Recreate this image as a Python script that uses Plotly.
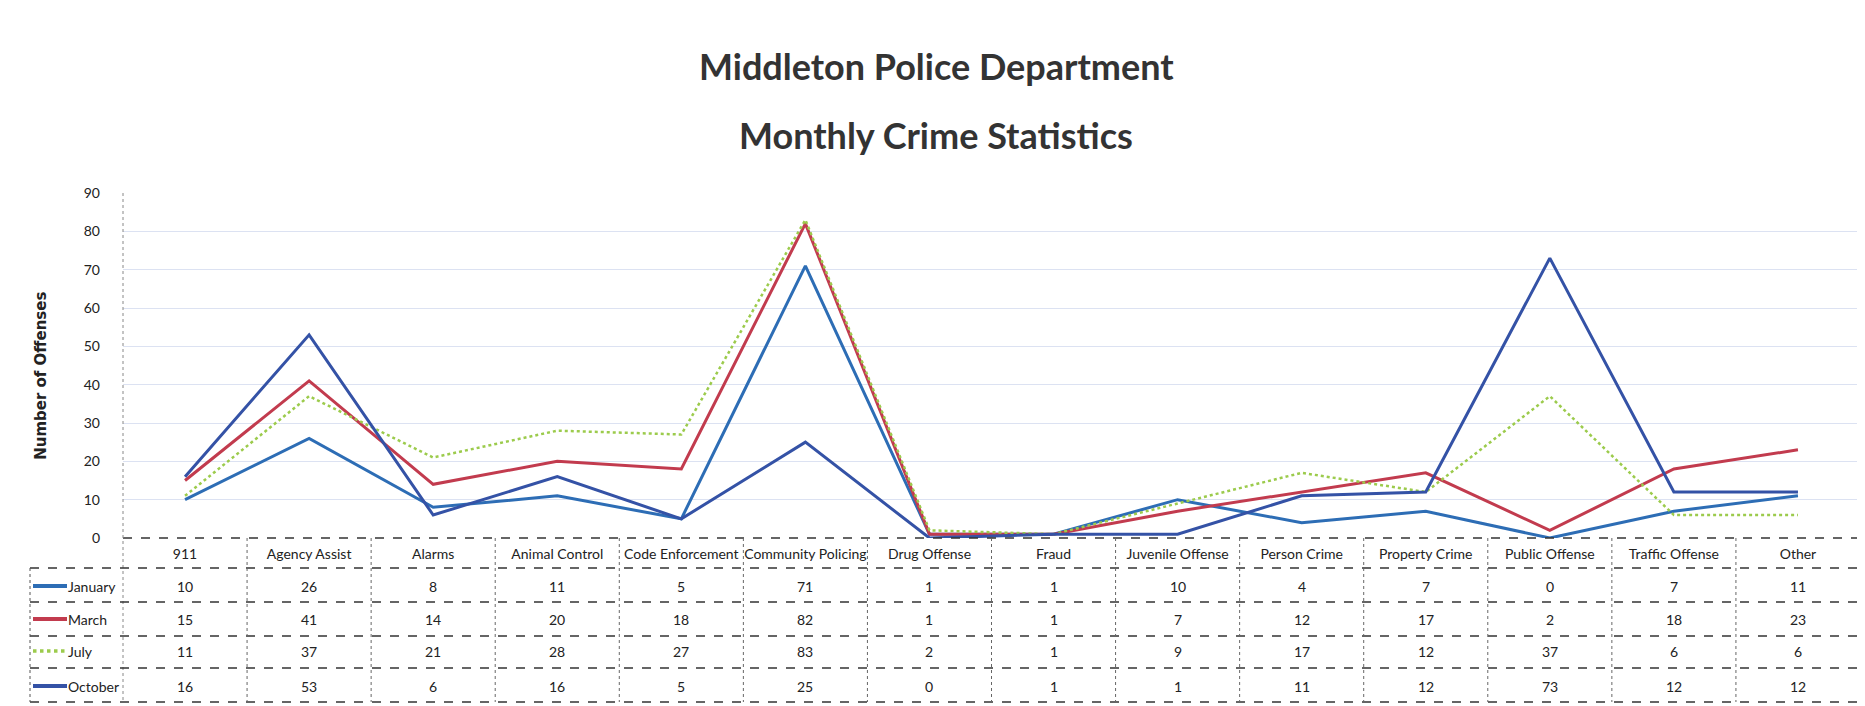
import plotly.graph_objects as go

categories = ["911", "Agency Assist", "Alarms", "Animal Control", "Code Enforcement",
              "Community Policing", "Drug Offense", "Fraud", "Juvenile Offense",
              "Person Crime", "Property Crime", "Public Offense", "Traffic Offense", "Other"]
months = ["January", "March", "July", "October"]
january = [10, 26, 8, 11, 5, 71, 1, 1, 10, 4, 7, 0, 7, 11]
march = [15, 41, 14, 20, 18, 82, 1, 1, 7, 12, 17, 2, 18, 23]
july = [11, 37, 21, 28, 27, 83, 2, 1, 9, 17, 12, 37, 6, 6]
october = [16, 53, 6, 16, 5, 25, 0, 1, 1, 11, 12, 73, 12, 12]
y_ticks = [0, 10, 20, 30, 40, 50, 60, 70, 80, 90]

series = [january, march, july, october]
colors = ["#2D6DB5", "#C23B4E", "#9CCB4C", "#3452A6"]
dashes = ["solid", "solid", "dot", "solid"]
widths = [3, 3, 2.5, 3]

FONT = "Lato, 'Open Sans', sans-serif"

W, H = 1865, 706
L, R, T, B = 115, 13, 185, 176
plot_h = H - T - B
plot_w = W - L - R


def py(pix):
    return (H - B - pix) / plot_h


def px(pix):
    return (pix - L) / plot_w


fig = go.Figure()
for name, vals, c, d, w in zip(months, series, colors, dashes, widths):
    fig.add_trace(go.Scatter(x=categories, y=vals, mode="lines", name=name,
                             line=dict(color=c, width=w, dash=d), showlegend=False))

# Title
for txt, yy in [("<b>Middleton Police Department</b>", 58), ("<b>Monthly Crime Statistics</b>", 127)]:
    fig.add_annotation(text=txt, xref="paper", yref="paper",
                       x=px(928), y=py(yy), xanchor="center", yanchor="middle",
                       showarrow=False, font=dict(family=FONT, size=36, color="#333333"))

# Y axis title
fig.add_annotation(text="<b>Number of Offenses</b>", xref="paper", yref="paper",
                   x=px(33), y=0.47, textangle=-90, xanchor="center", yanchor="middle",
                   showarrow=False, font=dict(family="DejaVu Sans", size=15, color="#222222"))

# Table geometry (pixel rows)
row_centers = [578, 611, 643, 678]
row_lines = [560, 594, 628, 660, 694]

shapes = []
# x axis line (dashed)
shapes.append(dict(type="line", xref="paper", yref="paper", x0=0, x1=1, y0=0, y1=0,
                   line=dict(color="#333333", width=1.3, dash="dash")))
# y axis line (dotted)
shapes.append(dict(type="line", xref="paper", yref="paper", x0=0, x1=0, y0=1, y1=py(694),
                   line=dict(color="#888888", width=1, dash="dot")))
# horizontal row lines
for yl in row_lines:
    shapes.append(dict(type="line", xref="paper", yref="paper", x0=px(22), x1=1,
                       y0=py(yl), y1=py(yl),
                       line=dict(color="#333333", width=1.3, dash="dash")))
# left border of legend column
shapes.append(dict(type="line", xref="paper", yref="paper", x0=px(22), x1=px(22),
                   y0=py(560), y1=py(694), line=dict(color="#555555", width=1, dash="dot")))
# vertical column separators
for i in range(len(categories) - 1):
    shapes.append(dict(type="line", xref="x", yref="paper", x0=i + 0.5, x1=i + 0.5,
                       y0=0, y1=py(694), line=dict(color="#666666", width=1, dash="dot")))
# legend keys
for name, c, d, w, yc in zip(months, colors, dashes, widths, row_centers):
    shapes.append(dict(type="line", xref="paper", yref="paper", x0=px(25), x1=px(59),
                       y0=py(yc), y1=py(yc), line=dict(color=c, width=w + 1, dash=d)))
    fig.add_annotation(text=name, xref="paper", yref="paper", x=px(58), y=py(yc),
                       xanchor="left", yanchor="middle", showarrow=False,
                       font=dict(family=FONT, size=14, color="#222222"))

# table values
for vals, yc in zip(series, row_centers):
    for i, v in enumerate(vals):
        fig.add_annotation(text=str(v), xref="x", yref="paper", x=i, y=py(yc),
                           xanchor="center", yanchor="middle", showarrow=False,
                           font=dict(family=FONT, size=14, color="#222222"))

fig.update_layout(
    width=W, height=H,
    margin=dict(l=L, r=R, t=T, b=B),
    paper_bgcolor="white", plot_bgcolor="white",
    shapes=shapes,
    xaxis=dict(type="category", categoryorder="array", categoryarray=categories,
               range=[-0.5, len(categories) - 0.5], showgrid=False, zeroline=False,
               showline=False, ticks="", ticklabelstandoff=6,
               tickfont=dict(family=FONT, size=14, color="#222222")),
    yaxis=dict(range=[0, 90], tickvals=y_ticks, showgrid=True, gridcolor="#DCE2F2",
               gridwidth=1, zeroline=False, showline=False, ticks="",
               ticklabelstandoff=22,
               tickfont=dict(family=FONT, size=14, color="#222222")),
)

fig.write_html("out.html")
